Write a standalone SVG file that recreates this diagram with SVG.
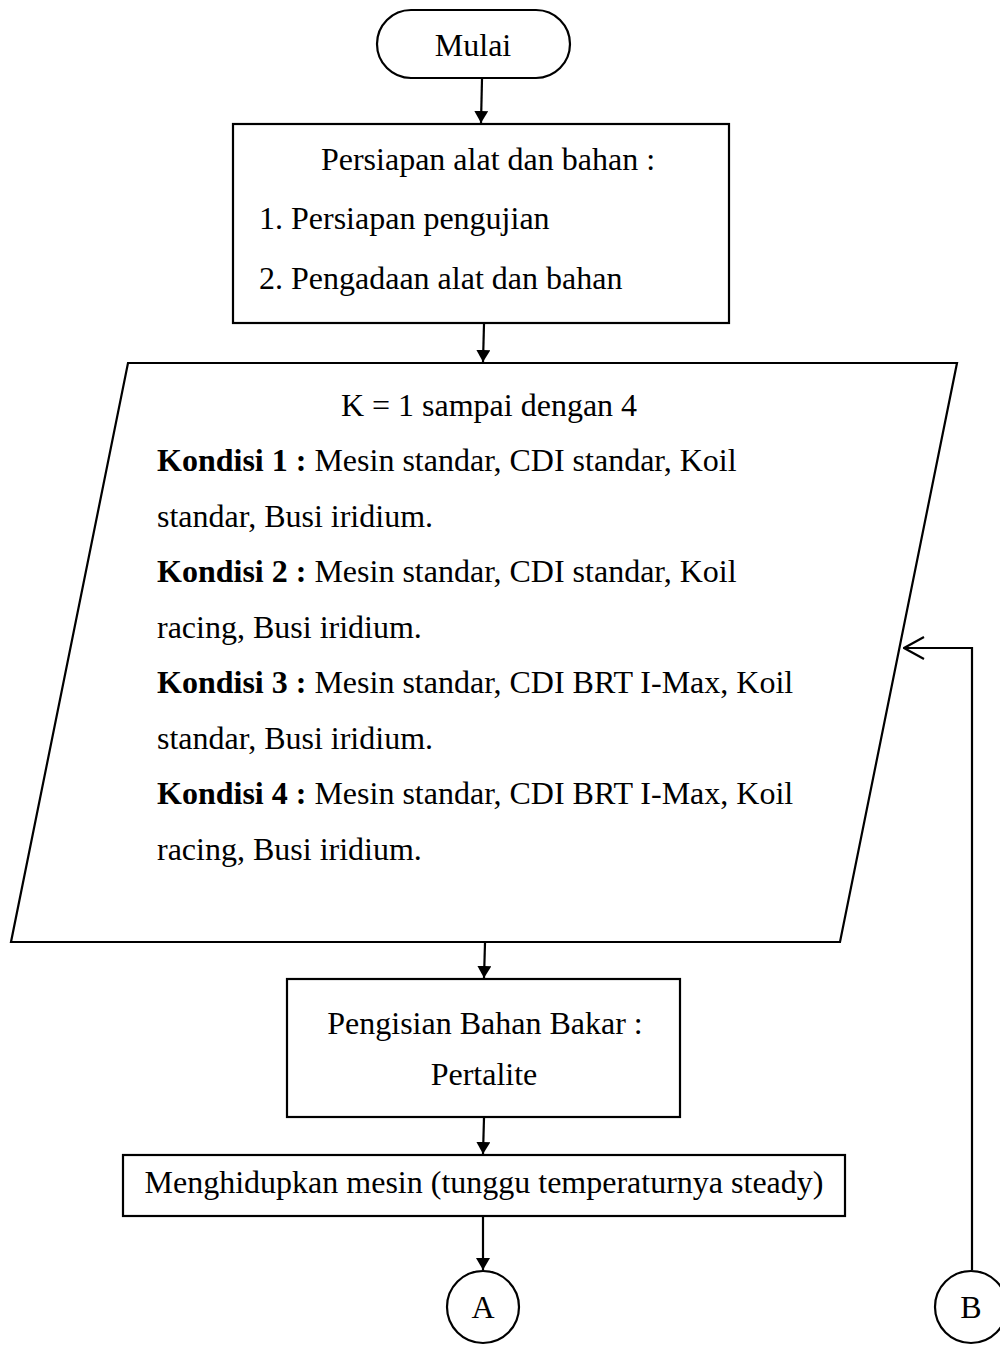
<svg xmlns="http://www.w3.org/2000/svg" width="1000" height="1345" viewBox="0 0 1000 1345">
  <style>
    .shape { fill: #ffffff; stroke: #000000; stroke-width: 2.2; }
    .line { fill: none; stroke: #000000; stroke-width: 2.2; }
    .t { font-family: "Liberation Serif", "Times New Roman", serif; font-size: 32px; fill: #000000; }
    .c { text-anchor: middle; }
    .b { font-weight: bold; }
  </style>
  <defs>
    <marker id="arrow" viewBox="0 0 12 14" refX="12" refY="7" markerWidth="12" markerHeight="14" markerUnits="userSpaceOnUse" orient="auto">
      <path d="M0,0 L12,7 L0,14 Z" fill="#000000"/>
    </marker>
    <marker id="openArrow" viewBox="0 0 22 24" refX="21" refY="12" markerWidth="22" markerHeight="24" markerUnits="userSpaceOnUse" orient="auto">
      <path d="M1,1 L21,12 L1,23" fill="none" stroke="#000000" stroke-width="2.2"/>
    </marker>
  </defs>

  <!-- connectors -->
  <g id="connectors">
    <line class="line" x1="482" y1="79" x2="481" y2="123" marker-end="url(#arrow)"/>
    <line class="line" x1="484" y1="324" x2="483" y2="362" marker-end="url(#arrow)"/>
    <line class="line" x1="485" y1="943" x2="484" y2="978" marker-end="url(#arrow)"/>
    <line class="line" x1="484" y1="1118" x2="483" y2="1154" marker-end="url(#arrow)"/>
    <line class="line" x1="483" y1="1217" x2="483" y2="1270" marker-end="url(#arrow)"/>
    <polyline class="line" points="972,1270 972,648 904,648" marker-end="url(#openArrow)"/>
  </g>

  <!-- start terminal -->
  <g id="start">
    <rect class="shape" x="377" y="10" width="193" height="68" rx="34" ry="34"/>
    <text class="t c" x="473" y="56">Mulai</text>
  </g>

  <!-- preparation -->
  <g id="prepare">
    <rect class="shape" x="233" y="124" width="496" height="199"/>
    <text class="t c" x="488" y="170">Persiapan alat dan bahan :</text>
    <text class="t" x="259" y="229">1. Persiapan pengujian</text>
    <text class="t" x="259" y="289">2. Pengadaan alat dan bahan</text>
  </g>

  <!-- conditions input -->
  <g id="conditions">
    <polygon class="shape" points="128,363 957,363 840,942 11,942"/>
    <text class="t c" x="489" y="416">K = 1 sampai dengan 4</text>
    <text class="t" x="157" y="471"><tspan class="b">Kondisi 1 :</tspan> Mesin standar, CDI standar, Koil</text>
    <text class="t" x="157" y="527">standar, Busi iridium.</text>
    <text class="t" x="157" y="582"><tspan class="b">Kondisi 2 :</tspan> Mesin standar, CDI standar, Koil</text>
    <text class="t" x="157" y="638">racing, Busi iridium.</text>
    <text class="t" x="157" y="693"><tspan class="b">Kondisi 3 :</tspan> Mesin standar, CDI BRT I-Max, Koil</text>
    <text class="t" x="157" y="749">standar, Busi iridium.</text>
    <text class="t" x="157" y="804"><tspan class="b">Kondisi 4 :</tspan> Mesin standar, CDI BRT I-Max, Koil</text>
    <text class="t" x="157" y="860">racing, Busi iridium.</text>
  </g>

  <!-- fuel -->
  <g id="fuel">
    <rect class="shape" x="287" y="979" width="393" height="138"/>
    <text class="t c" x="485" y="1034">Pengisian Bahan Bakar :</text>
    <text class="t c" x="484" y="1085">Pertalite</text>
  </g>

  <!-- engine start -->
  <g id="engine">
    <rect class="shape" x="123" y="1155" width="722" height="61"/>
    <text class="t c" x="484" y="1193">Menghidupkan mesin (tunggu temperaturnya steady)</text>
  </g>

  <!-- off-page connectors -->
  <g id="connA">
    <circle class="shape" cx="483" cy="1307" r="36"/>
    <text class="t c" x="483" y="1318">A</text>
  </g>
  <g id="connB">
    <circle class="shape" cx="971" cy="1307" r="36"/>
    <text class="t c" x="971" y="1318">B</text>
  </g>
</svg>
